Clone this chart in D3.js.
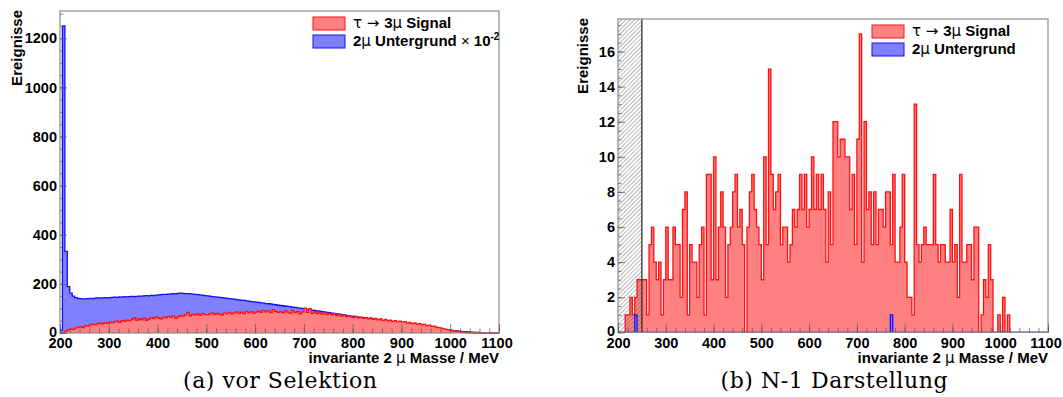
<!DOCTYPE html>
<html><head><meta charset="utf-8">
<script src="https://cdn.jsdelivr.net/npm/d3@7/dist/d3.min.js"></script>
<style>body{margin:0;background:#fff}svg{display:block}</style>
</head><body>
<svg id="c" width="1063" height="397"></svg>
<script>
// ---- data: 5 MeV bins from 200 to 1100 MeV ----
const massMin = 200, massMax = 1100, binWidth = 5;

// panel (a) "vor Selektion": 2mu background (x 1e-2) per bin
const backgroundA = [
 12,1250,332,189,162,150,144,141,140,139,
 139,140,141,140,142,143,142,143,144,143,
 144,145,146,145,147,146,148,147,148,149,
 148,149,150,150,151,152,151,153,152,154,
 155,156,157,157,158,159,160,159,161,162,
 161,160,160,159,158,157,156,155,154,152,
 151,150,148,147,146,145,144,143,141,140,
 139,138,136,135,134,133,131,130,128,127,
 126,125,123,122,120,119,118,116,115,113,
 112,111,109,108,107,105,104,102,101,99,
 98,96,95,93,92,90,89,87,86,84,
 83,81,80,78,77,75,74,72,71,69,
 68,66,65,63,62,60,59,57,56,54,
 53,51,50,48,47,45,44,42,41,39,
 38,36,35,33,32,30,29,28,26,25,
 24,22,21,20,18,17,16,14,13,12,
 11,10,9,8,7,6,5,4,3,3,
 2,2,1,1,1,0,0,0,0,0
];
// panel (a): tau -> 3mu signal per bin
const signalA = [
 0,0,8,14,16,15,20,24,26,22,
 30,28,33,36,34,38,40,37,42,39,
 44,41,46,48,43,50,47,52,49,55,
 62,51,58,54,60,52,57,63,59,66,
 61,58,65,62,68,64,70,60,67,72,
 69,74,84,70,76,73,79,72,80,75,
 74,78,82,76,80,77,73,81,79,84,
 78,82,86,80,85,79,88,83,87,81,
 85,89,84,92,86,90,83,95,88,84,
 87,82,90,85,80,92,83,88,78,86,
 101,84,99,80,86,79,83,77,82,75,
 80,74,78,71,76,69,73,67,70,66,
 64,68,62,65,60,63,58,61,56,59,
 54,57,51,55,49,52,47,50,45,48,
 44,46,40,43,38,41,36,38,33,35,
 30,32,27,28,24,22,20,17,15,13,
 11,9,7,6,4,3,2,1,1,0,
 0,0,0,0,0,0,0,0,0,0
];
// panel (b) "N-1 Darstellung": signal per bin
const signalB = [
 0,0,0,1,1,2,1,2,3,3,
 3,3,1,5,6,4,3,4,1,3,
 6,3,3,6,5,5,2,7,8,1,
 5,4,4,2,5,6,1,9,9,3,
 10,3,6,8,6,2,5,6,8,9,
 6,7,5,0,6,8,9,7,6,5,
 3,10,5,15,9,7,8,9,5,6,
 6,4,5,7,6,7,9,7,9,6,
 7,10,7,9,7,9,7,4,8,5,
 12,12,10,11,11,10,10,7,9,5,
 11,17,4,12,7,8,5,8,5,7,
 7,6,8,8,5,9,4,4,6,9,
 4,2,2,1,13,5,4,5,6,5,
 5,5,9,5,4,5,5,4,4,7,
 4,5,2,9,4,4,5,5,3,6,
 6,0,1,3,2,5,3,0,0,1,
 0,2,0,1,0,0,0,0,0,0,
 0,0,0,0,0,0,0,0,0,0
];
// panel (b): background per bin (only two filled bins)
const backgroundB = new Array(180).fill(0);
backgroundB[7] = 1; backgroundB[114] = 1;

const xMajorTicks = [200,300,400,500,600,700,800,900,1000,1100];
const yMajorTicksA = [0,200,400,600,800,1000,1200];
const yMajorTicksB = [0,2,4,6,8,10,12,14,16];
const cutB = 250;

const legendA = ["τ → 3μ Signal", "2μ Untergrund × 10-2"];
const legendB = ["τ → 3μ Signal", "2μ Untergrund"];

// ---- drawing ----
const svg = d3.select("#c");
const defs = svg.append("defs");
const pat = defs.append("pattern").attr("id","hatch").attr("patternUnits","userSpaceOnUse")
  .attr("width",3).attr("height",3).attr("patternTransform","rotate(45)");
pat.append("line").attr("x1",0).attr("y1",0).attr("x2",0).attr("y2",3)
  .attr("stroke","#5e5e5e").attr("stroke-width",0.9);

const RED_FILL="#ff8080", RED="#ff1010", BLUE_FILL="#8080ff", BLUE="#1010ff";
const FONT="'Liberation Sans', Arial, sans-serif";
const SYM="'DejaVu Sans', sans-serif";

function stepPts(vals){
  const pts=[[massMin,0]];
  vals.forEach((v,i)=>{const lo=massMin+i*binWidth; pts.push([lo,v],[lo+binWidth,v]);});
  pts.push([massMax,0]);
  return pts;
}

function panel(o){
  const g = svg.append("g");
  const x = d3.scaleLinear().domain([massMin,massMax]).range([o.left,o.right]);
  const y = d3.scaleLinear().domain([0,o.ymax]).range([o.bottom,o.top]);
  const clipId="clip"+o.id;
  defs.append("clipPath").attr("id",clipId).append("rect")
    .attr("x",o.left).attr("y",o.top).attr("width",o.right-o.left).attr("height",o.bottom-o.top+1);
  const plot = g.append("g").attr("clip-path",`url(#${clipId})`);
  const area = d3.area().x(d=>x(d[0])).y0(y(0)).y1(d=>y(d[1]));
  const line = d3.line().x(d=>x(d[0])).y(d=>y(d[1]));
  o.layers.forEach(L=>{
    const pts=stepPts(L.vals);
    plot.append("path").attr("d",area(pts)).attr("fill",L.fill);
    plot.append("path").attr("d",line(pts)).attr("fill","none").attr("stroke",L.stroke).attr("stroke-width",1.3);
  });
  if(o.cut){
    plot.append("rect").attr("x",x(massMin)).attr("y",o.top).attr("width",x(o.cut)-x(massMin))
      .attr("height",o.bottom-o.top).attr("fill","url(#hatch)");
    g.append("line").attr("x1",x(o.cut)).attr("x2",x(o.cut)).attr("y1",o.top).attr("y2",o.bottom)
      .attr("stroke","#222").attr("stroke-width",1.2);
  }
  // frame
  g.append("rect").attr("x",o.left).attr("y",o.top).attr("width",o.right-o.left).attr("height",o.bottom-o.top)
    .attr("fill","none").attr("stroke","#8c8c8c").attr("stroke-width",1.2);
  // axes (ticks inside the frame)
  const xMinor = d3.range(massMin, massMax+1, 20);
  const ax = g.append("g").attr("transform",`translate(0,${o.bottom})`)
    .call(d3.axisBottom(x).tickValues(xMinor).tickSize(-4.5).tickFormat(""));
  ax.select(".domain").remove(); ax.selectAll("line").attr("stroke","#555").attr("stroke-opacity",0.7);
  const axM = g.append("g").attr("transform",`translate(0,${o.bottom})`)
    .call(d3.axisBottom(x).tickValues(xMajorTicks).tickSize(-9).tickPadding(5).tickFormat(d3.format("d")));
  axM.select(".domain").remove(); axM.selectAll("line").attr("stroke","#555").attr("stroke-opacity",0.7);
  axM.selectAll("text").attr("font-family",FONT).attr("font-weight","bold").attr("font-size",14.5).attr("fill","#000")
    .attr("dx",d=>d===massMax?-2.5:0);
  const ayMin = g.append("g").attr("transform",`translate(${o.left},0)`)
    .call(d3.axisLeft(y).tickValues(d3.range(0,o.ymax,o.yminor)).tickSize(-3.5).tickFormat(""));
  ayMin.select(".domain").remove(); ayMin.selectAll("line").attr("stroke","#555").attr("stroke-opacity",0.7);
  const ay = g.append("g").attr("transform",`translate(${o.left},0)`)
    .call(d3.axisLeft(y).tickValues(o.yticks).tickSize(-7).tickPadding(3).tickFormat(d3.format("d")));
  ay.select(".domain").remove(); ay.selectAll("line").attr("stroke","#555").attr("stroke-opacity",0.7);
  ay.selectAll("text").attr("font-family",FONT).attr("font-weight","bold").attr("font-size",14.5).attr("fill","#000")
    .attr("dy",d=>d===0?"0.22em":"0.32em");
  // titles
  g.append("text").attr("transform",`translate(${o.ytitleX},${o.top-1}) rotate(-90)`)
    .attr("text-anchor","end").attr("font-family",FONT).attr("font-weight","bold").attr("font-size",15).text("Ereignisse");
  const xt = g.append("text").attr("x",o.right).attr("y",363).attr("text-anchor","end")
    .attr("font-family",FONT).attr("font-weight","bold").attr("font-size",15);
  xt.append("tspan").text("invariante 2 ");
  xt.append("tspan").attr("font-weight","normal").attr("font-family",SYM).text("μ");
  xt.append("tspan").text(" Masse / MeV");
  // legend
  const lg = g.append("g");
  o.legend.forEach((t,i)=>{
    const yy = o.legY + i*18;
    lg.append("rect").attr("x",o.legX).attr("y",yy).attr("width",32).attr("height",13)
      .attr("fill",i==0?RED_FILL:BLUE_FILL).attr("stroke",i==0?RED:BLUE).attr("stroke-width",1);
    const tx = lg.append("text").attr("x",o.legX+40).attr("y",yy+11).attr("font-family",FONT)
      .attr("font-weight","bold").attr("font-size",15);
    if(i==0){
      tx.append("tspan").attr("font-weight","normal").attr("font-family",SYM).text("τ → ");
      tx.append("tspan").text("3");
      tx.append("tspan").attr("font-weight","normal").attr("font-family",SYM).text("μ");
      tx.append("tspan").text(" Signal");
    } else {
      tx.append("tspan").text("2");
      tx.append("tspan").attr("font-weight","normal").attr("font-family",SYM).text("μ");
      tx.append("tspan").text(" Untergrund");
      if(t.indexOf("×")>=0){
        tx.append("tspan").attr("font-weight","normal").text(" × ");
        tx.append("tspan").text("10");
        tx.append("tspan").attr("font-size",10).attr("dy",-6).text("-2");
      }
    }
  });
  // caption
  g.append("text").attr("x",o.capX).attr("y",388).attr("text-anchor","middle")
    .attr("font-family","'DejaVu Serif', serif").attr("font-size",22)
    .attr("textLength",o.capW).attr("lengthAdjust","spacing").text(o.caption);
}

panel({id:"a", left:60, right:499, top:11, bottom:333, ymax:1311, yticks:yMajorTicksA, yminor:50,
  layers:[{vals:backgroundA, fill:BLUE_FILL, stroke:BLUE},{vals:signalA, fill:RED_FILL, stroke:RED}],
  legend:legendA, legX:313, legY:17, ytitleX:22, capX:280, capW:194, caption:"(a) vor Selektion"});
panel({id:"b", left:618, right:1048, top:19, bottom:332.4, ymax:17.85, yticks:yMajorTicksB, yminor:0.5,
  layers:[{vals:signalB, fill:RED_FILL, stroke:RED},{vals:backgroundB, fill:BLUE_FILL, stroke:BLUE}],
  legend:legendB, legX:872, legY:25, ytitleX:588, capX:834, capW:227, caption:"(b) N-1 Darstellung", cut:cutB});
</script>
</body></html>
